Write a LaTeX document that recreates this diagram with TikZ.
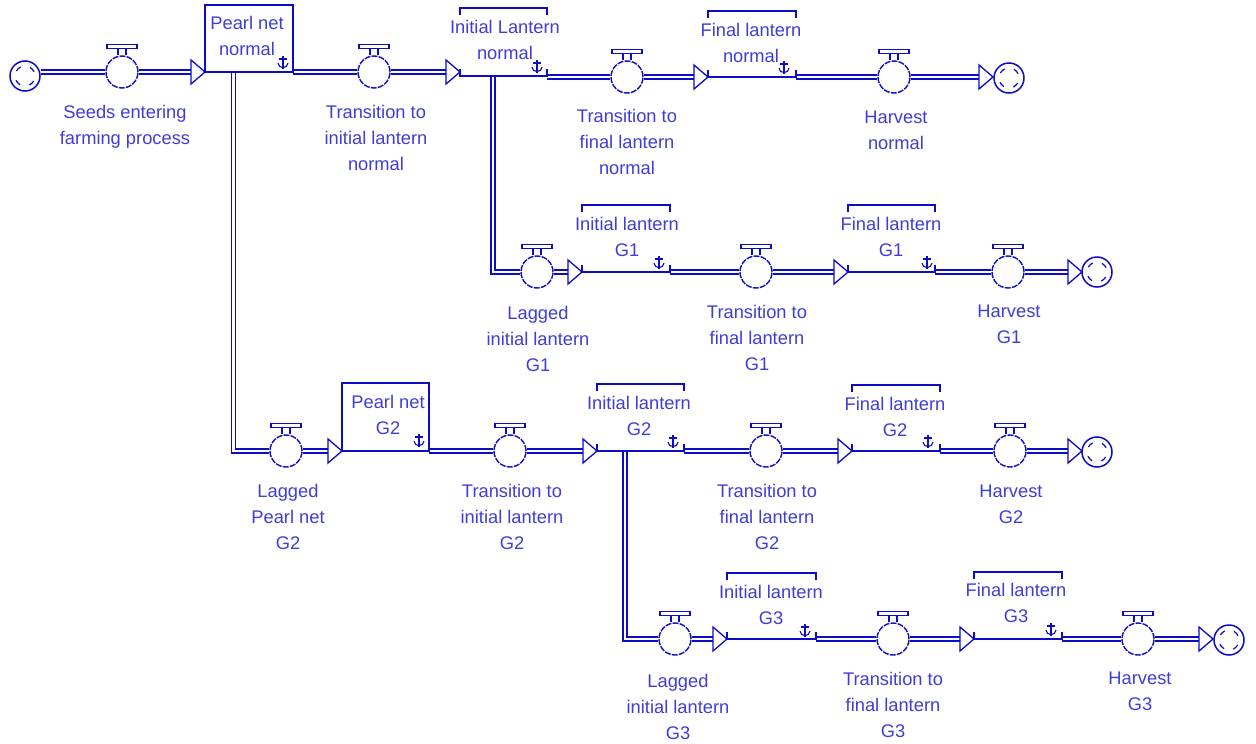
\documentclass[tikz,border=0pt]{standalone}
\usepackage{fontspec}
\setmainfont{Liberation Sans}
\usetikzlibrary{backgrounds,calc}
\definecolor{lc}{RGB}{12,12,200}
\definecolor{tc}{RGB}{62,62,215}
\tikzset{
  ln/.style={draw=lc, line width=1.3pt},
  pipe/.style={draw=lc, double=white, double distance=2.6pt, line width=1.4pt},
  valve/.style={circle, draw=lc, fill=white, line width=1.4pt, minimum size=32pt, inner sep=0pt, dash pattern=on 6pt off 1.2pt},
  cloudnode/.style={circle, draw=lc, fill=white, line width=1.5pt, minimum size=30pt, inner sep=0pt},
  lbl/.style={text=tc, align=center, font=\fontsize{18.3}{26}\selectfont, inner sep=0pt, anchor=north},
  stockbox/.style={draw=lc, line width=1.3pt, fill=white, rectangle, inner sep=0pt},
  tri/.style={draw=lc, line width=1.3pt, fill=white, line join=miter},
}
\newcommand\mkvalve[3]{%
  \node[valve] (#1) at (#2,#3) {};
  \draw[ln] ([xshift=-4pt]#1.north) -- ++(0,-7) -- ++(8,0) -- ++(0,7);
  \draw[ln, fill=white] ([xshift=-15pt,yshift=7pt]#1.north) rectangle ++(30,-3.5);
}
\newcommand\mkcloud[3]{%
  \node[cloudnode] (#1) at (#2,#3) {};
  \foreach \a in {25,115,205,295}
    \draw[ln, line width=1.2pt] (#1.center) ++(\a:10pt) arc[start angle=\a, delta angle=35, radius=10pt];
}
\newcommand\mkarrow[3]{%
  \coordinate (#1) at (#2,#3);
  \coordinate (#1b) at ([xshift=-8pt]#1);
}
\newcommand\drawarrow[1]{%
  \draw[tri] (#1) -- ++(-14,-12) -- ++(0,24) -- cycle;
}
% bracket stock: name, L, R, T, B
\newcommand\mkstock[5]{%
  \coordinate (#1l) at (#2,#5);
  \coordinate (#1r) at (#3,#5);
  \coordinate (#1tl) at (#2,#4);
  \coordinate (#1tr) at (#3,#4);
  \draw[ln] (#1tl) ++(0,7) -- (#1tl) -- (#1tr) -- ++(0,7);
  \draw[ln] (#1l) ++(0,-7) -- (#1l) -- (#1r) -- ++(0,-7);
}
\newcommand\mkanch[2]{%
  \draw[ln, line width=1.1pt] (#1,#2) ++(0,-7) -- ++(0,13);
  \draw[ln, line width=1.1pt] (#1,#2) ++(-4,-4) -- ++(8,0);
  \draw[ln, line width=1.1pt] (#1,#2) ++(-5,0) .. controls +(0,6) and +(0,6) .. ++(10,0);
}
\begin{document}
\begin{tikzpicture}[x=1pt,y=-1pt]
\useasboundingbox (0,0) rectangle (1256,744);

% ---------- arrow coordinates ----------
\mkarrow{a1}{205}{72}
\mkarrow{a2}{460}{72}
\mkarrow{a3}{708}{77}
\mkarrow{a4}{993}{77}
\mkarrow{a5}{342}{451}
\mkarrow{a6}{582}{272}
\mkarrow{a7}{848}{272}
\mkarrow{a8}{1082}{272}
\mkarrow{a9}{597}{451}
\mkarrow{a10}{727}{639}
\mkarrow{a11}{852}{451}
\mkarrow{a12}{1082}{451}
\mkarrow{a13}{974}{639}
\mkarrow{a14}{1213}{639}

% ---------- clouds ----------
\mkcloud{c0}{25}{76}
\mkcloud{c1}{1009}{78}
\mkcloud{c2}{1097}{272}
\mkcloud{c3}{1097}{452}
\mkcloud{c4}{1229}{640}

% ---------- valves ----------
\mkvalve{v1}{122}{72}
\mkvalve{v2}{374}{72}
\mkvalve{v3}{627}{77}
\mkvalve{v4}{894}{77}
\mkvalve{v5}{286}{451}
\mkvalve{v6}{537}{272}
\mkvalve{v7}{756}{272}
\mkvalve{v8}{1008}{272}
\mkvalve{v9}{510}{451}
\mkvalve{v10}{675}{639}
\mkvalve{v11}{766}{451}
\mkvalve{v12}{1010}{451}
\mkvalve{v13}{893}{639}
\mkvalve{v14}{1138}{639}

% ---------- arrowheads ----------
\foreach \n in {a1,a2,a3,a4,a5,a6,a7,a8,a9,a10,a11,a12,a13,a14} {\drawarrow{\n}}

% ---------- stocks ----------
\node[stockbox, minimum width=88pt, minimum height=67pt] (s1) at (249,38.5) {};
\coordinate (s1r) at (293,72);
\coordinate (s1d) at (233.5,72);
\node[stockbox, minimum width=87pt, minimum height=68pt] (s6) at (385.5,417) {};
\coordinate (s6r) at (429,451);
\mkstock{s2}{460}{547}{8}{76}
\coordinate (s2d) at (493,76);
\coordinate (s2o) at (547,77);
\mkstock{s3}{708}{796}{11}{77}
\mkstock{s4}{582}{670}{205}{272}
\mkstock{s5}{848}{935}{205}{272}
\mkstock{s7}{597}{684}{384}{451}
\coordinate (s7d) at (625,451);
\mkstock{s8}{852}{940}{385}{451}
\mkstock{s9}{727}{816}{573}{639}
\mkstock{s10}{974}{1062}{572}{639}

% ---------- anchors ----------
\mkanch{283}{63}
\mkanch{537}{67}
\mkanch{784}{68}
\mkanch{659}{263}
\mkanch{927}{263}
\mkanch{419}{441}
\mkanch{673}{442}
\mkanch{928}{442}
\mkanch{805}{631}
\mkanch{1051}{630}

% ---------- stock texts ----------
\node[lbl] (ts1) at (247,16) {Pearl net\\normal};
\node[lbl] (ts2) at (505,20) {Initial Lantern\\normal};
\node[lbl] (ts3) at (751,23) {Final lantern\\normal};
\node[lbl] (ts4) at (627,217) {Initial lantern\\G1};
\node[lbl] (ts5) at (891,217) {Final lantern\\G1};
\node[lbl] (ts6) at (388,395) {Pearl net\\G2};
\node[lbl] (ts7) at (639,396) {Initial lantern\\G2};
\node[lbl] (ts8) at (895,397) {Final lantern\\G2};
\node[lbl] (ts9) at (771,585) {Initial lantern\\G3};
\node[lbl] (ts10) at (1016,583) {Final lantern\\G3};

% ---------- flow labels ----------
\node[lbl] (tv1) at (125,105) {Seeds entering\\farming process};
\node[lbl] (tv2) at (376,105) {Transition to\\initial lantern\\normal};
\node[lbl] (tv3) at (627,109) {Transition to\\final lantern\\normal};
\node[lbl] (tv4) at (896,111) {Harvest\\normal};
\node[lbl] (tv6) at (538,306) {Lagged\\initial lantern\\G1};
\node[lbl] (tv7) at (757,305) {Transition to\\final lantern\\G1};
\node[lbl] (tv8) at (1009,305) {Harvest\\G1};
\node[lbl] (tv5) at (288,484) {Lagged\\Pearl net\\G2};
\node[lbl] (tv9) at (512,484) {Transition to\\initial lantern\\G2};
\node[lbl] (tv11) at (767,484) {Transition to\\final lantern\\G2};
\node[lbl] (tv12) at (1011,485) {Harvest\\G2};
\node[lbl] (tv10) at (678,674) {Lagged\\initial lantern\\G3};
\node[lbl] (tv13) at (893,672) {Transition to\\final lantern\\G3};
\node[lbl] (tv14) at (1140,672) {Harvest\\G3};

% ---------- pipes ----------
\begin{scope}[on background layer]
\fill[white] (0,0) rectangle (1256,744);
% row normal
\draw[pipe] (c0.east |- v1.west) -- (v1.west);
\draw[pipe] (v1.east) -- (a1b);
\draw[pipe] (s1r) -- (v2.west);
\draw[pipe] (v2.east) -- (a2b);
\draw[pipe] (s2o) -- (v3.west);
\draw[pipe] (v3.east) -- (a3b);
\draw[pipe] (s3r) -- (v4.west);
\draw[pipe] (v4.east) -- (a4b);
% branches
\draw[pipe] (s1d) |- (v5.west);
\draw[pipe] (s2d) |- (v6.west);
\draw[pipe] (s7d) |- (v10.west);
% row G1
\draw[pipe] (v6.east) -- (a6b);
\draw[pipe] (s4r) -- (v7.west);
\draw[pipe] (v7.east) -- (a7b);
\draw[pipe] (s5r) -- (v8.west);
\draw[pipe] (v8.east) -- (a8b);
% row G2
\draw[pipe] (v5.east) -- (a5b);
\draw[pipe] (s6r) -- (v9.west);
\draw[pipe] (v9.east) -- (a9b);
\draw[pipe] (s7r) -- (v11.west);
\draw[pipe] (v11.east) -- (a11b);
\draw[pipe] (s8r) -- (v12.west);
\draw[pipe] (v12.east) -- (a12b);
% row G3
\draw[pipe] (v10.east) -- (a10b);
\draw[pipe] (s9r) -- (v13.west);
\draw[pipe] (v13.east) -- (a13b);
\draw[pipe] (s10r) -- (v14.west);
\draw[pipe] (v14.east) -- (a14b);
\end{scope}
\end{tikzpicture}
\end{document}
